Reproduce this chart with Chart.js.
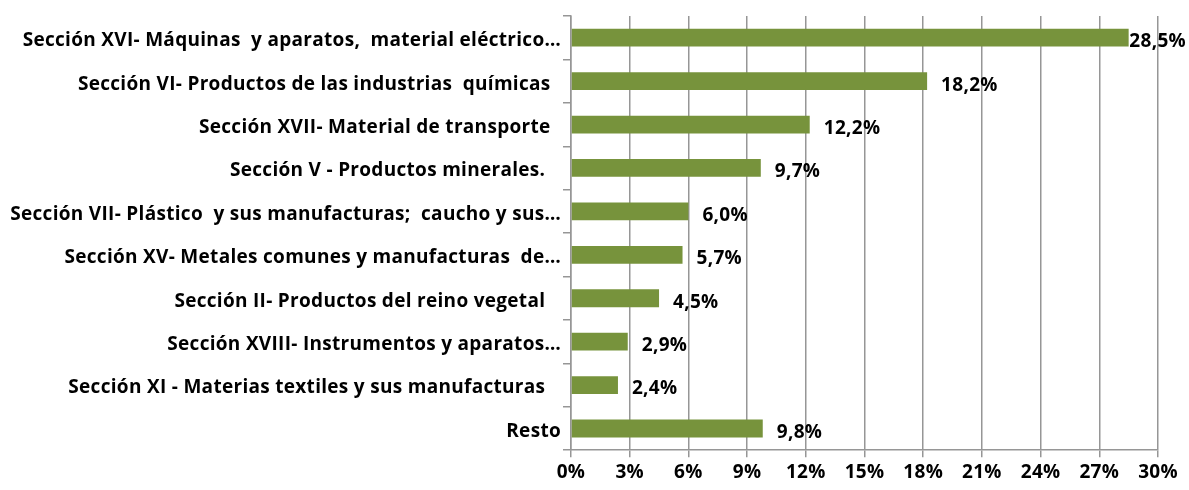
<!DOCTYPE html>
<html>
<head>
<meta charset="utf-8">
<script src="https://cdn.jsdelivr.net/npm/chart.js@4"></script>
<style>
  html, body { margin: 0; padding: 0; background: #fff; }
  #wrap { width: 1189px; height: 490px; position: relative; }
</style>
</head>
<body>
<div id="wrap"><canvas id="chart"></canvas></div>
<script>
const categories = [
  'Sección XVI- Máquinas  y aparatos,  material eléctrico…',
  'Sección VI- Productos de las industrias  químicas  ',
  'Sección XVII- Material de transporte  ',
  'Sección V - Productos minerales.   ',
  'Sección VII- Plástico  y sus manufacturas;  caucho y sus…',
  'Sección XV- Metales comunes y manufacturas  de…',
  'Sección II- Productos del reino vegetal   ',
  'Sección XVIII- Instrumentos y aparatos…',
  'Sección XI - Materias textiles y sus manufacturas   ',
  'Resto'
];
const shares = [28.5, 18.2, 12.2, 9.7, 6.0, 5.7, 4.5, 2.9, 2.4, 9.8];
const xTicks = [0, 3, 6, 9, 12, 15, 18, 21, 24, 27, 30];

const FONT = '"Open Sans", Lato, sans-serif';
const FSIZE = 19;
const SPACING = '0.3px';
const BAR = '#77933C';
const GRID = '#969696';

// un poco de espacio entre letras, el texto de Excel es más ancho
const spacing = {
  id: 'spacing',
  beforeDraw(chart) { chart.ctx.letterSpacing = SPACING; }
};

// etiquetas de valor al final de cada barra, estilo Excel
const valueLabels = {
  id: 'valueLabels',
  afterDatasetsDraw(chart) {
    const ctx = chart.ctx;
    const meta = chart.getDatasetMeta(0);
    ctx.save();
    ctx.font = 'bold ' + FSIZE + 'px ' + FONT;
    ctx.fillStyle = '#000';
    ctx.textBaseline = 'middle';
    meta.data.forEach((bar, i) => {
      const txt = shares[i].toFixed(1).replace('.', ',') + '%';
      const w = ctx.measureText(txt).width;
      let x = bar.x + 14;
      if (x + w > chart.width - 3) x = chart.width - 3 - w;
      ctx.fillText(txt, x, bar.y + 4);
    });
    ctx.restore();
  }
};

new Chart(document.getElementById('chart'), {
  type: 'bar',
  data: {
    labels: categories,
    datasets: [{
      data: shares,
      backgroundColor: BAR,
      barPercentage: 0.41,
      categoryPercentage: 1
    }]
  },
  options: {
    indexAxis: 'y',
    responsive: true,
    maintainAspectRatio: false,
    animation: false,
    layout: { padding: { top: 16, right: 31, bottom: 2, left: 0 } },
    plugins: { legend: { display: false }, tooltip: { enabled: false } },
    scales: {
      x: {
        min: 0, max: 30,
        afterBuildTicks: (s) => { s.ticks = xTicks.map((v) => ({ value: v })); },
        grid: { color: GRID, lineWidth: 1.5, tickLength: 7 },
        border: { color: GRID, width: 1.5 },
        ticks: {
          color: '#000', padding: 4,
          font: { family: FONT, size: FSIZE, weight: 'bold' },
          callback: (v) => v + '%'
        }
      },
      y: {
        afterFit: (s) => { s.width = 571; },
        grid: { drawOnChartArea: false, color: GRID, lineWidth: 1.5, tickLength: 8, offset: true },
        border: { color: GRID, width: 1.5 },
        ticks: {
          autoSkip: false, color: '#000', padding: 2, labelOffset: 3,
          font: { family: FONT, size: FSIZE, weight: 'bold' }
        }
      }
    }
  },
  plugins: [spacing, valueLabels]
});
</script>
</body>
</html>
